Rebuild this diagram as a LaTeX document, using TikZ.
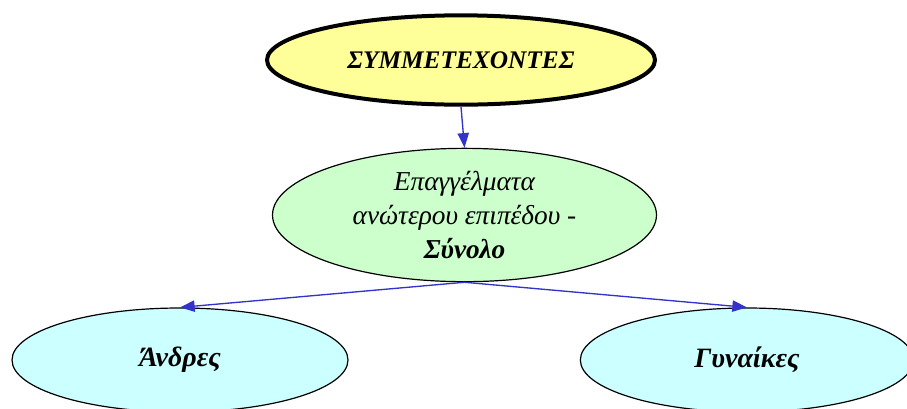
\documentclass[tikz,border=0pt]{standalone}
\usepackage{fontspec}
\setmainfont{Liberation Serif}
\usepackage{tikz}
\usetikzlibrary{arrows.meta,shapes.geometric}
\definecolor{pyellow}{HTML}{FFFF99}
\definecolor{pgreen}{HTML}{CCFFCC}
\definecolor{pcyan}{HTML}{CCFFFF}
\definecolor{parrow}{HTML}{3333CC}

\begin{document}
\begin{tikzpicture}[x=0.75pt,y=-0.75pt,
    oval/.style={ellipse,draw=black,inner sep=0pt,align=center,font=\itshape},
    link/.style={-{Triangle[length=11pt,width=8.5pt]},draw=parrow,fill=parrow,line width=1pt}]
      \useasboundingbox (0,0) rectangle (907,408);

      % Top: participants
      \node[oval,fill=pyellow,line width=3pt,minimum width=291pt,minimum height=67pt,
        font=\bfseries\itshape\fontsize{19}{22}\selectfont] (total) at (461,60)
        {ΣΥΜΜΕΤΕΧΟΝΤΕΣ};

      % Middle: occupation group
      \node[oval,fill=pgreen,line width=0.9pt,minimum width=288pt,minimum height=100pt,
        font=\itshape\fontsize{20.5}{25.5}\selectfont] (group) at (464.5,215)
        {Επαγγέλματα\\ανώτερου επιπέδου -\\\textbf{Σύνολο}};

      % Bottom: by sex
      \node[oval,fill=pcyan,line width=0.9pt,minimum width=252pt,minimum height=78pt,
        font=\bfseries\itshape\fontsize{21}{24}\selectfont] (men) at (180,360) {Άνδρες};
      \node[oval,fill=pcyan,line width=0.9pt,minimum width=250pt,minimum height=78pt,
        font=\bfseries\itshape\fontsize{21}{24}\selectfont] (women) at (747,360) {Γυναίκες};

      % Arrows
      \draw[link] (total.south) -- (group.north);
      \draw[link] (group.south) -- (men.north);
      \draw[link] (group.south) -- (women.north);
\end{tikzpicture}
\end{document}
